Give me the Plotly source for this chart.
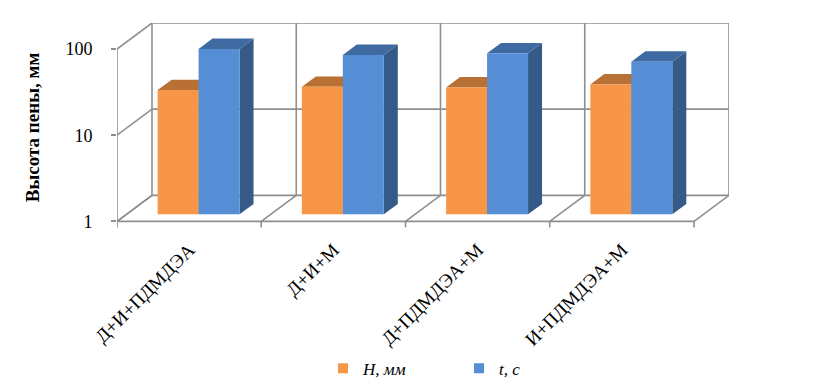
import plotly.graph_objects as go

# ---------------- data ----------------
categories = ["Д+И+ПДМДЭА", "Д+И+М", "Д+ПДМДЭА+М", "И+ПДМДЭА+М"]
h_mm = [27.7, 30.2, 29.7, 32.2]
t_s = [83.0, 70.6, 73.9, 59.0]
series_names = ["<i>H, мм</i>", "<i>t, с</i>"]
y_tick_vals = [1, 10, 100]
y_tick_text = ["1", "10", "100"]
y_title = "Высота пены, мм"

# ---------------- styling / 3D projection ----------------
DEPTH_X = 35 / 144.3      # x-axis units of full depth
DEPTH_LOG = 26 / 86       # decades of full depth
BAR_Z0 = 0.27             # bar front plane (fraction of depth)
BAR_DZ = 0.40             # bar depth
BAR_W = 0.284             # bar width (x units)
GRID = "#8E8E8E"
FONT = "Liberation Serif, Times New Roman, serif"

colors = {
    0: dict(front="#F79646", top="#B87034", side="#A8622C"),
    1: dict(front="#558ED5", top="#3F6AA1", side="#355A88"),
}


def P(x, v, z):
    return x + z * DEPTH_X, v * 10 ** (z * DEPTH_LOG)


def poly(pts, color):
    xs, ys = [], []
    for p in pts + [pts[0]]:
        px, py = P(*p)
        xs.append(px)
        ys.append(py)
    return go.Scatter(x=xs, y=ys, mode="lines", fill="toself", fillcolor=color,
                      line=dict(width=0, color=color), hoverinfo="skip", showlegend=False)


def segs(seglist, width=1.6, color=GRID):
    xs, ys = [], []
    for a, b in seglist:
        for p in (a, b):
            px, py = P(*p)
            xs.append(px)
            ys.append(py)
        xs.append(None)
        ys.append(None)
    return go.Scatter(x=xs, y=ys, mode="lines", line=dict(width=width, color=color),
                      hoverinfo="skip", showlegend=False)


n = len(categories)
bounds = [i - 0.5 for i in range(n + 1)]
ymin, ymax = y_tick_vals[0], y_tick_vals[-1]

fig = go.Figure()

# back wall, left wall, floor
wall = []
for v in y_tick_vals:
    wall.append(((bounds[0], v, 1), (bounds[-1], v, 1)))      # back wall horizontal
    wall.append(((bounds[0], v, 0), (bounds[0], v, 1)))       # left wall diagonals
for b in bounds:
    wall.append(((b, ymin, 1), (b, ymax, 1)))                 # back wall verticals
    wall.append(((b, ymin, 0), (b, ymin, 1)))                 # floor diagonals
wall.append(((bounds[0], ymin, 0), (bounds[0], ymax, 0)))     # front vertical axis
wall.append(((bounds[0], ymin, 0), (bounds[-1], ymin, 0)))    # front floor axis
tick_low = 10 ** (-6 / 86)
for b in bounds:
    wall.append(((b, ymin, 0), (b, tick_low, 0)))
fig.add_trace(segs(wall))

# bars
for i in range(n):
    for s, vals in enumerate([h_mm, t_s]):
        v = vals[i]
        xc = i + (s - 0.5) * BAR_W
        xl, xr = xc - BAR_W / 2, xc + BAR_W / 2
        z0, z1 = BAR_Z0, BAR_Z0 + BAR_DZ
        c = colors[s]
        fig.add_trace(poly([(xr, ymin, z0), (xr, v, z0), (xr, v, z1), (xr, ymin, z1)], c["side"]))
        fig.add_trace(poly([(xl, v, z0), (xr, v, z0), (xr, v, z1), (xl, v, z1)], c["top"]))
        fig.add_trace(poly([(xl, ymin, z0), (xr, ymin, z0), (xr, v, z0), (xl, v, z0)], c["front"]))

# legend entries
for s, name in enumerate(series_names):
    fig.add_trace(go.Scatter(x=[None], y=[None], mode="markers", name=name,
                             marker=dict(symbol="square", size=10, color=colors[s]["front"])))

L, T, PW, PH = 109, 15, 612, 206.6
fig.add_annotation(text="<b>" + y_title + "</b>", xref="paper", yref="paper",
                   x=(24 - L) / PW, y=(T + PH - 119) / PH, textangle=-90, showarrow=False,
                   xanchor="center", yanchor="middle",
                   font=dict(family=FONT, size=19, color="black"))

fig.update_layout(
    width=817, height=391,
    margin=dict(l=L, r=817 - L - PW, t=T, b=391 - T - PH, autoexpand=False),
    paper_bgcolor="white", plot_bgcolor="white",
    font=dict(family=FONT, color="black"),
    showlegend=True,
    legend=dict(orientation="h", x=(315 - L) / PW, xanchor="left", y=-0.67, yanchor="middle",
                font=dict(family=FONT, size=17, color="black"),
                itemwidth=30, entrywidth=91, entrywidthmode="pixels"),
    xaxis=dict(range=[bounds[0], bounds[-1] + DEPTH_X], showgrid=False, zeroline=False,
               showline=False, tickmode="array", tickvals=list(range(n)), ticktext=categories,
               tickangle=-45, ticks="", ticklabelstandoff=4,
               tickfont=dict(family=FONT, size=19, color="black")),
    yaxis=dict(type="log", range=[-0.1, 2 + DEPTH_LOG], showgrid=False, zeroline=False,
               showline=False, tickmode="array", tickvals=y_tick_vals, ticktext=y_tick_text,
               ticks="outside", ticklen=5, tickcolor=GRID, tickwidth=1.6, ticklabelstandoff=15,
               tickfont=dict(family=FONT, size=18, color="black")),
)

fig.write_html("out.html")
